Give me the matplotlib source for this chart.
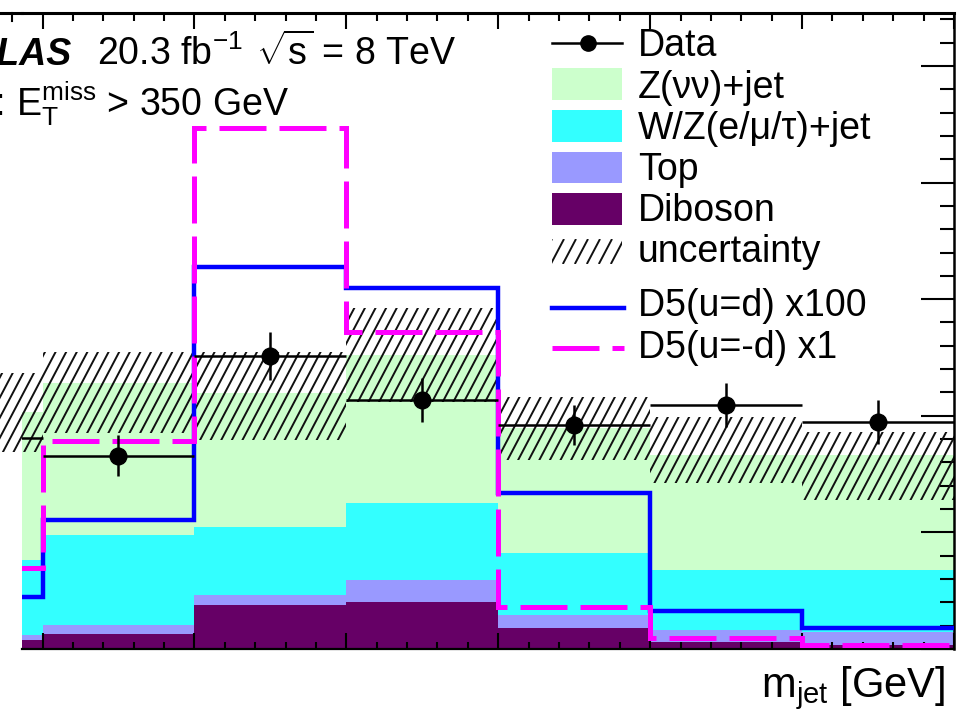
import numpy as np
import matplotlib
matplotlib.use("Agg")
import matplotlib.pyplot as plt
from matplotlib.collections import LineCollection
from matplotlib.patches import Rectangle, Polygon
from matplotlib.lines import Line2D
from matplotlib.ticker import MultipleLocator

plt.rcParams['font.family'] = ['Liberation Sans', 'DejaVu Sans']
plt.rcParams['mathtext.fontset'] = 'custom'
plt.rcParams['mathtext.rm'] = 'Liberation Sans'
plt.rcParams['mathtext.it'] = 'Liberation Sans:italic'
plt.rcParams['mathtext.bf'] = 'Liberation Sans:bold'

# m_jet binning [GeV]
bin_edges = [50, 60, 70, 80, 90, 100, 110, 120]

# expected backgrounds (events per bin), stacked bottom to top
bkg_diboson = [3.9, 6.4, 18.9, 20.2, 9.0, 3.0, 1.7]
bkg_top = [2.1, 3.9, 4.3, 9.4, 5.6, 5.1, 5.6]
bkg_wz_lep = [32.2, 38.7, 29.1, 33.0, 26.6, 25.8, 26.6]
bkg_z_nunu = [63.4, 65.1, 57.5, 63.5, 53.6, 49.3, 49.3]

# total background uncertainty band
unc_low = [84.5, 92.6, 89.6, 105.9, 81.0, 71.2, 63.9]
unc_high = [118.4, 127.4, 127.4, 146.2, 108.1, 99.5, 93.1]

# observed data
data_counts = [90.5, 82.8, 125.6, 106.8, 96.1, 104.6, 97.3]
data_errors = [9.5, 8.8, 10.3, 9.6, 8.6, 9.6, 9.4]

# D5 signal shapes
sig_d5_ud = [22.3, 55.3, 163.8, 154.8, 66.9, 16.4, 9.1]    # scaled x100
sig_d5_umd = [34.7, 89.2, 223.4, 136.0, 18.0, 4.7, 1.7]    # scaled x1

legend_labels = ['Data', 'Z(νν)+jet', 'W/Z(e/μ/τ)+jet', 'Top', 'Diboson',
                 'uncertainty', 'D5(u=d) x100', 'D5(u=-d) x1']

C_ZNN = '#ccffcc'
C_WZ = '#33ffff'
C_TOP = '#9999ff'
C_VV = '#660066'
C_D5 = '#0000ff'
C_D5M = '#ff00ff'
C_HATCH = '#111111'

W_PX, H_PX = 958, 715
fig = plt.figure(figsize=(W_PX / 100, H_PX / 100), dpi=100)


def fx(x):
    return x / W_PX


def fy(y):
    return 1 - y / H_PX


ax_l, ax_r, ax_t, ax_b = 22, 954, 13, 649
ax = fig.add_axes([fx(ax_l), fy(ax_b), (ax_r - ax_l) / W_PX, (ax_b - ax_t) / H_PX])
ax.set_xlim(58.65, 120)
ax.set_ylim(0, 272.7)

edges = np.array(bin_edges, float)
nb = len(edges) - 1

# stacked backgrounds
base = np.zeros(nb)
for vals, col in [(bkg_diboson, C_VV), (bkg_top, C_TOP),
                  (bkg_wz_lep, C_WZ), (bkg_z_nunu, C_ZNN)]:
    top = base + np.array(vals)
    ax.stairs(top, edges, baseline=base, fill=True, color=col, lw=0, zorder=1)
    base = top

# uncertainty band: step polygon used as clip region for diagonal hatching
verts = []
for i in range(nb):
    verts += [(edges[i], unc_high[i]), (edges[i + 1], unc_high[i])]
for i in reversed(range(nb)):
    verts += [(edges[i + 1], unc_low[i]), (edges[i], unc_low[i])]
band = Polygon(verts, closed=True, facecolor='none', edgecolor='none', zorder=2)
ax.add_patch(band)


def hatch_segments(width, height, slope=1.9, spacing=10.6):
    segs = []
    dx = height / slope
    c = -dx
    while c < width + spacing:
        segs.append([(c, 0), (c + dx, height)])
        c += spacing
    return segs


AW, AH = ax_r - ax_l, ax_b - ax_t
segs = [[(x0 / AW, y0 / AH), (x1 / AW, y1 / AH)]
        for (x0, y0), (x1, y1) in hatch_segments(AW, AH)]
hatch = LineCollection(segs, colors=C_HATCH, linewidths=1.4,
                       transform=ax.transAxes, zorder=2)
hatch.set_clip_path(band)
ax.add_collection(hatch)

# signal predictions
ax.stairs(sig_d5_ud, edges, baseline=None, color=C_D5, lw=3.2, zorder=3)
ax.stairs(sig_d5_umd, edges, baseline=None, color=C_D5M, lw=3.6,
          linestyle=(0, (9.4, 2.6)), zorder=4)

# data
centers = 0.5 * (edges[:-1] + edges[1:])
half_w = 0.5 * np.diff(edges)
ax.errorbar(centers, data_counts, yerr=data_errors, xerr=half_w, fmt='o',
            color='k', ms=12, elinewidth=1.8, capsize=0, zorder=5)

# axes styling
ax.xaxis.set_major_locator(MultipleLocator(10))
ax.xaxis.set_minor_locator(MultipleLocator(2))
ax.yaxis.set_major_locator(MultipleLocator(50))
ax.yaxis.set_minor_locator(MultipleLocator(10))
ax.tick_params(axis='x', which='both', direction='in', top=True, bottom=True,
               labelbottom=False, labeltop=False, width=1.5, color='k')
ax.tick_params(axis='x', which='major', length=11.5)
ax.tick_params(axis='x', which='minor', length=5.4)
ax.tick_params(axis='y', which='both', direction='in', left=False, right=True,
               labelleft=False, labelright=False, width=1.5, color='k')
ax.tick_params(axis='y', which='major', length=24)
ax.tick_params(axis='y', which='minor', length=10)
ax.spines['left'].set_visible(False)
ax.spines['top'].set_linewidth(2.2)
ax.spines['bottom'].set_linewidth(1.6)
ax.spines['right'].set_linewidth(1.8)

# frame continuing to the left edge of the canvas
fig.add_artist(Line2D([0, fx(ax_l)], [fy(ax_t), fy(ax_t)], color='k', lw=2.2,
                      transform=fig.transFigure))
fig.add_artist(Line2D([fx(12), fx(12)], [fy(ax_t), fy(ax_t + 8)], color='k', lw=1.5,
                      transform=fig.transFigure))

# labels
fig.text(fx(72), fy(65), 'ATLAS', ha='right', va='baseline', fontsize=27,
         fontweight='bold', fontstyle='italic')
fig.text(fx(97), fy(65), r'20.3 fb$^{-1}$', ha='left', va='baseline', fontsize=27)
fig.text(fx(256), fy(65), r'$\sqrt{\mathrm{s}}$ = 8 TeV', ha='left', va='baseline',
         fontsize=27)
fig.text(fx(6), fy(115), 'SR:', ha='right', va='baseline', fontsize=27)
fig.text(fx(16), fy(115), r'$\mathrm{E}_{\mathrm{T}}^{\mathrm{miss}}$ > 350 GeV',
         ha='left', va='baseline', fontsize=27)
fig.text(fx(945), fy(697), r'm$_{\mathrm{jet}}$ [GeV]', ha='right', va='baseline',
         fontsize=30)

# legend
lx0, lx1, tx = 552, 622, 638
baselines = [56, 98, 139, 180, 221, 262, 316, 358]


def fig_box(x0, y0, x1, y1, color):
    r = Rectangle((fx(x0), fy(y1)), fx(x1) - fx(x0), fy(y0) - fy(y1),
                  transform=fig.transFigure, facecolor=color, edgecolor='none')
    fig.add_artist(r)
    return r


for lab, yb in zip(legend_labels, baselines):
    fig.text(fx(tx), fy(yb), lab, ha='left', va='baseline', fontsize=27)

# Data entry
fig.add_artist(Line2D([fx(lx0), fx(lx1)], [fy(43), fy(43)], color='k', lw=1.8,
                      transform=fig.transFigure))
fig.add_artist(Line2D([fx(588)], [fy(43)], marker='o', ms=11, color='k',
                      transform=fig.transFigure))
# background entries
fig_box(lx0, 68, lx1, 100, C_ZNN)
fig_box(lx0, 110, lx1, 142, C_WZ)
fig_box(lx0, 152, lx1, 183, C_TOP)
fig_box(lx0, 193, lx1, 225, C_VV)
# uncertainty entry
sw = Rectangle((fx(lx0), fy(264)), fx(lx1) - fx(lx0), fy(239) - fy(264),
               transform=fig.transFigure, facecolor='none', edgecolor='none')
fig.add_artist(sw)
lsegs = [[(fx(lx0 + x0), fy(264 - y0)), (fx(lx0 + x1), fy(264 - y1))]
         for (x0, y0), (x1, y1) in hatch_segments(lx1 - lx0, 25, spacing=12)]
lh = LineCollection(lsegs, colors=C_HATCH, linewidths=1.4, transform=fig.transFigure)
lh.set_clip_path(sw)
fig.add_artist(lh)
# signal entries
fig.add_artist(Line2D([fx(lx0), fx(lx1 + 2)], [fy(308), fy(308)], color=C_D5, lw=3.2,
                      transform=fig.transFigure))
fig.add_artist(Line2D([fx(lx0), fx(lx1 + 2)], [fy(348), fy(348)], color=C_D5M, lw=3.6,
                      linestyle=(0, (9.4, 2.6)), transform=fig.transFigure))

fig.savefig('out.png', dpi=100)
